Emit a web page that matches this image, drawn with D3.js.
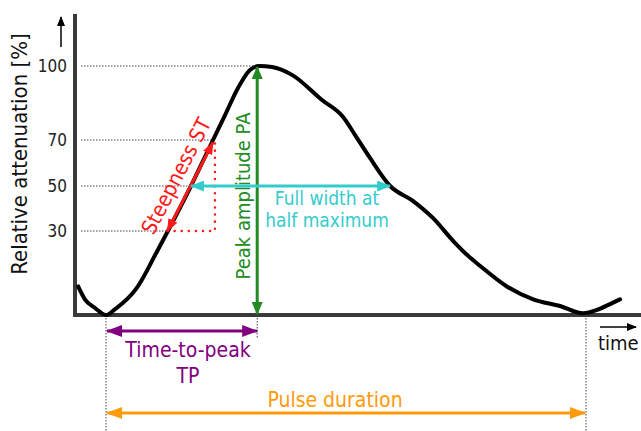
<!DOCTYPE html>
<html>
<head>
<meta charset="utf-8">
<script src="https://cdn.jsdelivr.net/npm/d3@7"></script>
<style>
  html, body { margin: 0; padding: 0; background: #fff; }
  svg { display: block; font-family: "DejaVu Sans Condensed", "DejaVu Sans", Verdana, sans-serif; font-stretch: condensed; }
</style>
</head>
<body>
<svg id="chart" width="641" height="431"></svg>
<script>
// curve samples (time in % of pulse duration, attenuation in %)
const times  = [-5.8, -4.4, -2.3, 0, 1.9, 6.5, 10.6, 12.9, 17.7, 22.3, 24.8, 27.5, 30, 31.9, 34.6, 38.75, 45, 49.4, 51.9, 55, 59.2, 64, 68.1, 72.3, 75.2, 77.9, 83.5, 89, 94.6, 99.4, 102.3, 105, 107.1];
const values = [10.2, 5.6, 2.5, 0, 2.1, 9.9, 22.6, 30, 50, 70, 80.1, 91.1, 98.4, 100, 99.6, 96.4, 86.2, 79.3, 72, 62.2, 50, 43.3, 35.8, 26.5, 21.5, 17.6, 10.2, 5.6, 3.2, 0.6, 1.8, 3.9, 5.6];

const tickValues = [30, 50, 70, 100];
const tickLabels = ['30', '50', '70', '100'];
// where each dotted guide stops (time)
const guideEnds = [12.9, 17.7, 22.7, 31.5];

const peakTime = 31.5, peakValue = 100;
const halfMax = 50, halfLeft = 17.7, halfRight = 59.2;
const stStart = [12.8, 30], stEnd = [22.3, 69], stCornerT = 22.7;
const pulseStart = 0, pulseEnd = 100;

const svg = d3.select('#chart');
const W = 641, H = 431;

const x = d3.scaleLinear().domain([0, 100]).range([106, 586]);
// the drawing's value axis is not evenly spaced, so use a piecewise scale
const y = d3.scaleLinear().domain([0, 30, 50, 70, 100]).range([315, 231, 186, 140, 66]);

const axisX = 75, baseY = y(0);
const colors = { red: '#ff1a1a', green: '#228b22', cyan: '#33cccc', purple: '#800080', orange: '#ff9a0a', axis: '#3a3a3a' };

// arrowheads
const defs = svg.append('defs');
function marker(id, color, len, wid) {
    defs.append('marker')
        .attr('id', id)
        .attr('markerUnits', 'userSpaceOnUse')
        .attr('markerWidth', len).attr('markerHeight', wid)
        .attr('refX', len - 1).attr('refY', wid / 2)
        .attr('orient', 'auto-start-reverse')
        .append('path')
        .attr('d', `M0,0 L${len},${wid / 2} L0,${wid} Z`)
        .attr('fill', color);
}
marker('a-red', colors.red, 13, 10);
marker('a-green', colors.green, 13, 11);
marker('a-cyan', colors.cyan, 14, 11);
marker('a-purple', colors.purple, 16, 12);
marker('a-orange', colors.orange, 16, 12);
marker('a-black', '#000', 10, 8);

function arrow(x1, y1, x2, y2, color, id, both, w) {
    const l = svg.append('line')
        .attr('x1', x1).attr('y1', y1).attr('x2', x2).attr('y2', y2)
        .attr('stroke', color).attr('stroke-width', w || 3)
        .attr('marker-end', `url(#${id})`);
    if (both) l.attr('marker-start', `url(#${id})`);
    return l;
}

// dotted guides from the value axis
svg.append('g').selectAll('line')
    .data(tickValues)
    .join('line')
    .attr('x1', axisX + 6).attr('x2', (d, i) => x(guideEnds[i]))
    .attr('y1', d => y(d)).attr('y2', d => y(d))
    .attr('stroke', '#444').attr('stroke-width', 1)
    .attr('stroke-dasharray', '1.5,1.5');

// vertical dotted guides below the baseline
svg.append('line').attr('x1', x(pulseStart)).attr('x2', x(pulseStart))
    .attr('y1', baseY).attr('y2', H)
    .attr('stroke', '#444').attr('stroke-dasharray', '1.5,1.5');
svg.append('line').attr('x1', x(pulseEnd)).attr('x2', x(pulseEnd))
    .attr('y1', baseY).attr('y2', H)
    .attr('stroke', '#444').attr('stroke-dasharray', '1.5,1.5');
svg.append('line').attr('x1', x(peakTime)).attr('x2', x(peakTime))
    .attr('y1', baseY).attr('y2', 338)
    .attr('stroke', '#444').attr('stroke-dasharray', '1.5,1.5');

// value axis labels
const yAxis = d3.axisLeft(y)
    .tickValues(tickValues)
    .tickFormat((d, i) => tickLabels[i])
    .tickSize(0).tickPadding(8);
svg.append('g')
    .attr('transform', `translate(${axisX},0)`)
    .call(yAxis)
    .call(g => g.select('.domain').remove())
    .call(g => g.attr('font-family', null).attr('font-size', 17))
    .call(g => g.selectAll('text').attr('fill', '#222'));

// axis lines
svg.append('line').attr('x1', axisX).attr('x2', axisX).attr('y1', 14).attr('y2', baseY + 2)
    .attr('stroke', colors.axis).attr('stroke-width', 4);
svg.append('line').attr('x1', axisX - 2).attr('x2', W).attr('y1', baseY).attr('y2', baseY)
    .attr('stroke', colors.axis).attr('stroke-width', 4);

// axis title + small arrows
svg.append('text')
    .attr('transform', `translate(27,154) rotate(-90)`)
    .attr('text-anchor', 'middle')
    .attr('font-size', 22).attr('fill', '#111')
    .text('Relative attenuation [%]');
arrow(61, 47, 61, 17, '#000', 'a-black', false, 1.5);
arrow(600, 327, 636, 327, '#000', 'a-black', false, 1.5);
svg.append('text').attr('x', 598).attr('y', 350)
    .attr('font-size', 20).attr('fill', '#111').text('time');

// the curve
const pts = times.map((t, i) => [t, values[i]]);
svg.append('path')
    .datum(pts)
    .attr('d', d3.line().x(d => x(d[0])).y(d => y(d[1])).curve(d3.curveMonotoneX))
    .attr('fill', 'none').attr('stroke', '#000').attr('stroke-width', 4)
    .attr('stroke-linejoin', 'round').attr('stroke-linecap', 'round');

// steepness
svg.append('polyline')
    .attr('points', [[x(stStart[0]), y(stStart[1])], [x(stCornerT), y(stStart[1])], [x(stCornerT), y(stEnd[1])]].map(p => p.join(',')).join(' '))
    .attr('fill', 'none').attr('stroke', colors.red).attr('stroke-width', 2.5)
    .attr('stroke-dasharray', '0.1,7').attr('stroke-linecap', 'round');
const sx1 = x(stStart[0]), sy1 = y(stStart[1]), sx2 = x(stEnd[0]), sy2 = y(stEnd[1]);
arrow(sx1, sy1, sx2, sy2, colors.red, 'a-red', true, 3);
const ang = Math.atan2(sy2 - sy1, sx2 - sx1) * 180 / Math.PI;
svg.append('text')
    .attr('transform', `translate(${(sx1 + sx2) / 2},${(sy1 + sy2) / 2}) rotate(${ang})`)
    .attr('x', 3).attr('y', -10)
    .attr('text-anchor', 'middle')
    .attr('font-size', 21).attr('fill', colors.red)
    .text('Steepness ST');

// peak amplitude
arrow(x(peakTime), y(0) - 1, x(peakTime), y(peakValue) + 1, colors.green, 'a-green', true, 3);
svg.append('text')
    .attr('transform', `translate(${x(peakTime) - 7},196) rotate(-90)`)
    .attr('text-anchor', 'middle')
    .attr('font-size', 20).attr('fill', colors.green)
    .text('Peak amplitude PA');

// full width at half maximum
arrow(x(halfLeft), y(halfMax), x(halfRight), y(halfMax), colors.cyan, 'a-cyan', true, 3);
svg.append('text').attr('x', 327).attr('y', 205)
    .attr('text-anchor', 'middle').attr('font-size', 19).attr('fill', colors.cyan)
    .text('Full width at');
svg.append('text').attr('x', 327).attr('y', 227)
    .attr('text-anchor', 'middle').attr('font-size', 19).attr('fill', colors.cyan)
    .text('half maximum');

// time to peak
arrow(x(pulseStart) + 1, 331, x(peakTime), 331, colors.purple, 'a-purple', true, 3);
svg.append('text').attr('x', 188).attr('y', 357)
    .attr('text-anchor', 'middle').attr('font-size', 21).attr('fill', colors.purple)
    .text('Time-to-peak');
svg.append('text').attr('x', 188).attr('y', 383)
    .attr('text-anchor', 'middle').attr('font-size', 21).attr('fill', colors.purple)
    .text('TP');

// pulse duration
arrow(x(pulseStart) + 1, 413, x(pulseEnd) - 1, 413, colors.orange, 'a-orange', true, 3);
svg.append('text').attr('x', 335).attr('y', 407)
    .attr('text-anchor', 'middle').attr('font-size', 21).attr('fill', colors.orange)
    .text('Pulse duration');
</script>
</body>
</html>
